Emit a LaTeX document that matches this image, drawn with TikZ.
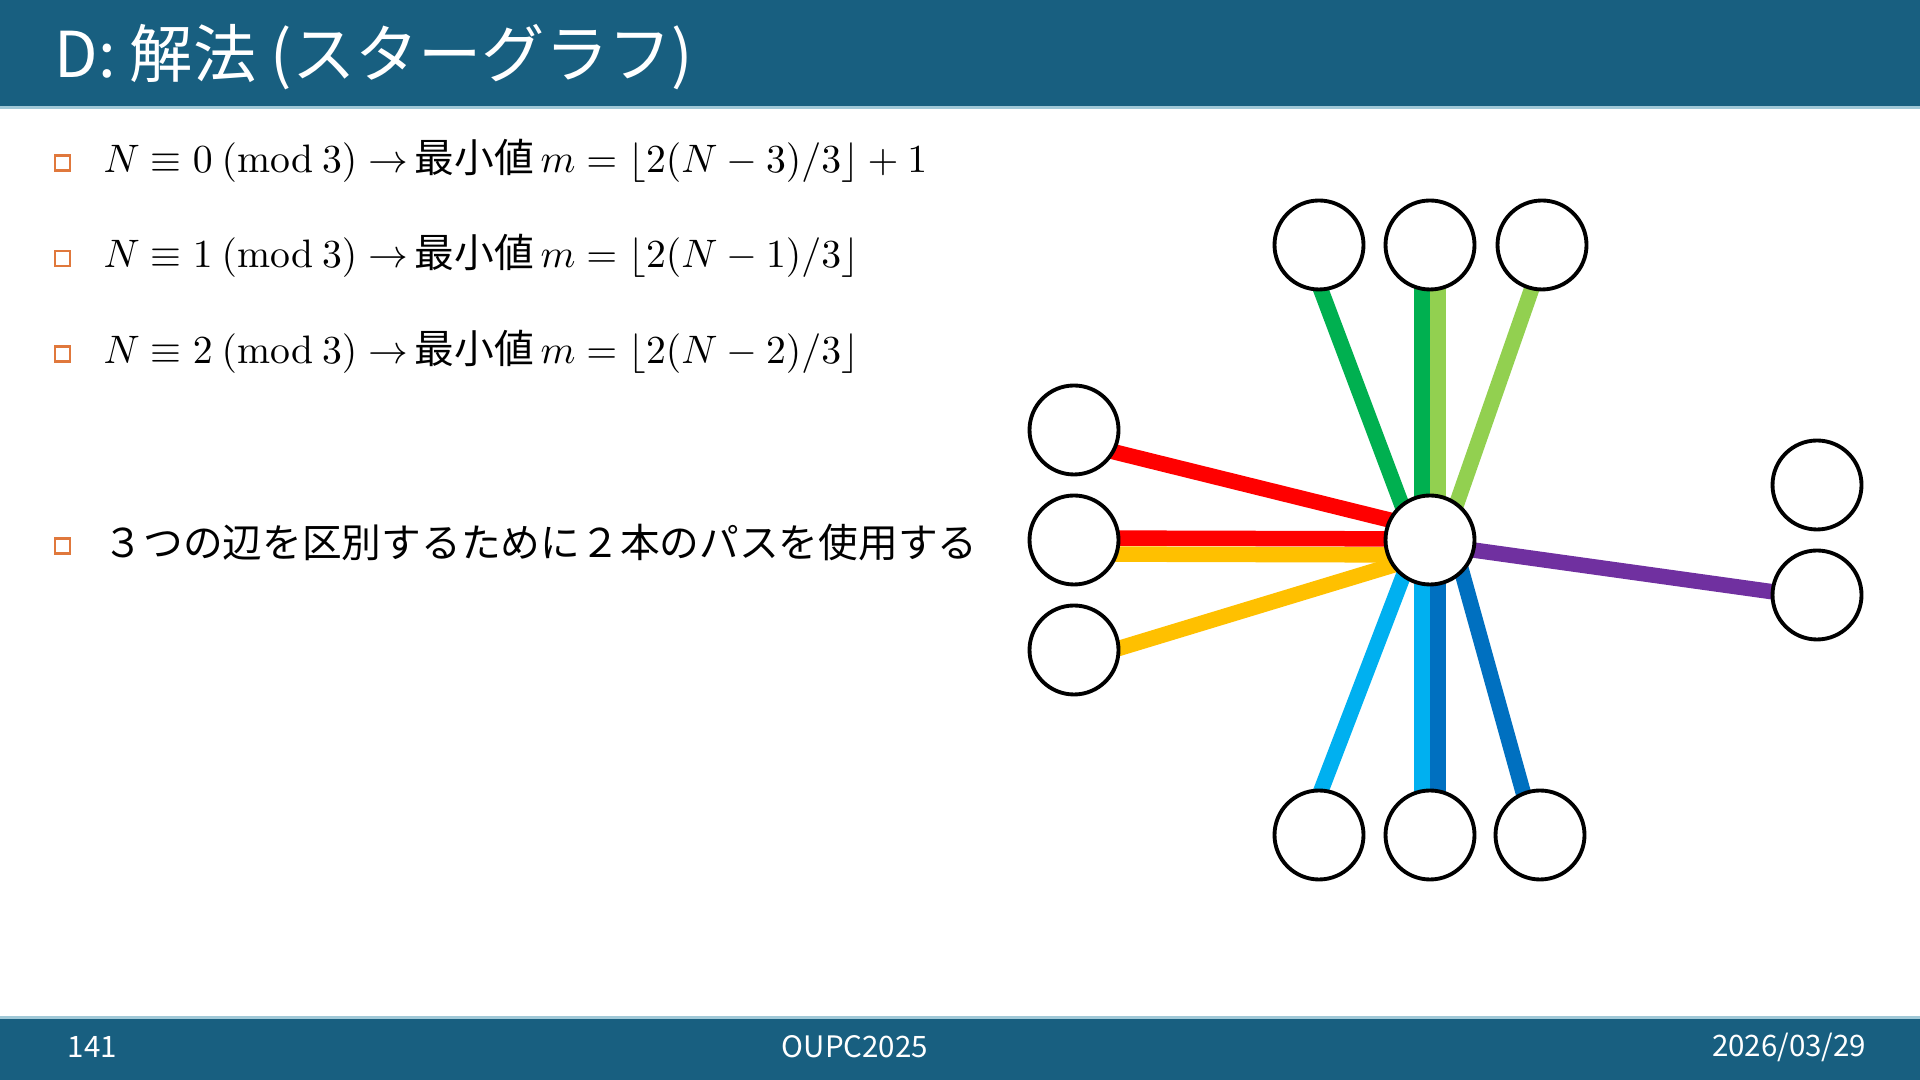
\RequirePackage{fix-cm}
\documentclass[tikz,border=0pt]{standalone}
\usepackage{amsmath}
\usepackage[no-math]{fontspec}
\setmainfont{Noto Sans CJK JP}
\usetikzlibrary{backgrounds}
\definecolor{barblue}{RGB}{24,95,128}
\definecolor{barline}{RGB}{160,200,215}
\definecolor{itemorange}{RGB}{224,120,60}
\definecolor{edgeyellow}{RGB}{255,192,0}
\definecolor{edgegreen}{RGB}{0,176,80}
\definecolor{edgelime}{RGB}{146,208,80}
\definecolor{edgesky}{RGB}{0,176,240}
\definecolor{edgeblue}{RGB}{0,112,192}
\definecolor{edgepurple}{RGB}{112,48,160}
\definecolor{edgered}{RGB}{255,0,0}

\begin{document}
\begin{tikzpicture}[
    vertex/.style={circle, draw=black, line width=1.1pt, fill=white,
      minimum size=0.89cm, inner sep=0pt},
    link/.style={line width=0.155cm},
    itembox/.style={draw=itemorange, line width=0.7pt,
      minimum size=0.15cm, inner sep=0pt},
    itemtext/.style={anchor=west, inner sep=0pt,
      font=\fontsize{11.3}{13}\selectfont},
    foot/.style={text=white, inner sep=0pt,
      font=\fontsize{8.4}{10}\selectfont}
  ]
  \useasboundingbox (0,0) rectangle (19.2,10.8);

  % header and footer
  \fill [barblue] (0,9.735) rectangle (19.2,10.8);
  \fill [barline] (0,9.71) rectangle (19.2,9.735);
  \node [anchor=west, text=white, inner sep=0pt,
    font=\fontsize{18}{20}\selectfont] (title) at (0.54,10.23)
    {D: 解法 (スターグラフ)};

  \fill [barline] (0,0.612) rectangle (19.2,0.635);
  \fill [barblue] (0,0) rectangle (19.2,0.612);
  \node [foot, anchor=west] (page) at (0.67,0.33) {141};
  \node [foot] (event) at (8.55,0.33) {OUPC2025};
  \node [foot, anchor=east] (date) at (18.67,0.33) {2026/03/29};

  % items
  \node [itembox] (b0) at (0.625,9.17) {};
  \node [itembox] (b1) at (0.625,8.216) {};
  \node [itembox] (b2) at (0.625,7.26) {};
  \node [itembox] (b3) at (0.625,5.34) {};

  \node [itemtext] (case0) at (1.03,9.196)
    {$N \equiv 0\ (\mathrm{mod}\ 3) \rightarrow$\,最小値$\,m = \lfloor 2(N-3)/3 \rfloor + 1$};
  \node [itemtext] (case1) at (1.03,8.24)
    {$N \equiv 1\ (\mathrm{mod}\ 3) \rightarrow$\,最小値$\,m = \lfloor 2(N-1)/3 \rfloor$};
  \node [itemtext] (case2) at (1.03,7.285)
    {$N \equiv 2\ (\mathrm{mod}\ 3) \rightarrow$\,最小値$\,m = \lfloor 2(N-2)/3 \rfloor$};
  \node [itemtext] (note) at (1.03,5.375)
    {３つの辺を区別するために２本のパスを使用する};

  % star graph
  \node [vertex] (hub) at (14.30,5.40) {};

  \node [vertex] (u1) at (13.19,8.35) {};
  \node [vertex] (u2) at (14.30,8.35) {};
  \node [vertex] (u3) at (15.42,8.35) {};

  \node [vertex] (w1) at (10.74,6.50) {};
  \node [vertex] (w2) at (10.74,5.40) {};
  \node [vertex] (w3) at (10.74,4.30) {};

  \node [vertex] (d1) at (13.19,2.45) {};
  \node [vertex] (d2) at (14.30,2.45) {};
  \node [vertex] (d3) at (15.40,2.45) {};

  \node [vertex] (e1) at (18.17,5.95) {};
  \node [vertex] (e2) at (18.17,4.85) {};

  \begin{scope}[on background layer]
    \fill [white] (0,0) rectangle (19.2,10.8);

    % left: red and yellow
    \draw [link, edgered] ([yshift=-0.12cm]w1.center) -- ([yshift=0.10cm]hub.center);
    \draw [link, edgered] ([yshift=0.02cm]w2.center) -- ([yshift=0.01cm]hub.center);
    \draw [link, edgeyellow] ([yshift=-0.14cm]w2.center) -- ([yshift=-0.15cm]hub.center);
    \draw [link, edgeyellow] ([yshift=-0.12cm]w3.center) -- ([yshift=-0.14cm]hub.center);

    % top: green and lime
    \draw [link, edgegreen] ([xshift=-0.15cm]u1.center) -- ([xshift=-0.15cm]hub.center);
    \draw [link, edgegreen] ([xshift=-0.08cm]u2.center) -- ([xshift=-0.08cm]hub.center);
    \draw [link, edgelime] ([xshift=0.08cm]u2.center) -- ([xshift=0.08cm]hub.center);
    \draw [link, edgelime] ([xshift=0.05cm]u3.center) -- ([xshift=0.14cm]hub.center);

    % bottom: sky and blue
    \draw [link, edgesky] ([xshift=-0.15cm]d1.center) -- ([xshift=-0.13cm]hub.center);
    \draw [link, edgesky] ([xshift=-0.08cm]d2.center) -- ([xshift=-0.08cm]hub.center);
    \draw [link, edgeblue] ([xshift=0.08cm]d2.center) -- ([xshift=0.08cm]hub.center);
    \draw [link, edgeblue] ([xshift=-0.05cm]d3.center) -- ([xshift=0.23cm]hub.center);

    % right: purple
    \draw [link, edgepurple] ([yshift=-0.04cm]hub.center) -- ([yshift=-0.03cm]e2.center);
  \end{scope}
\end{tikzpicture}
\end{document}
